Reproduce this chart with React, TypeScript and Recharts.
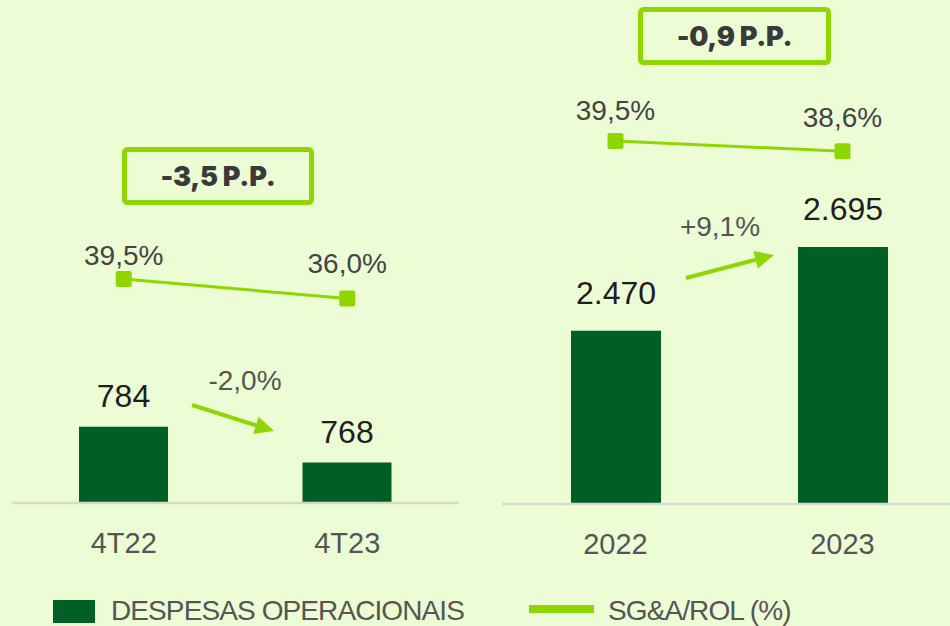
import { ComposedChart, Bar, Line, XAxis, YAxis, LabelList } from "recharts";

const quarterLabels = ["4T22", "4T23"];
const quarterExpenses = [784, 768];
const quarterSga = [39.5, 36.0];

const yearLabels = ["2022", "2023"];
const yearExpenses = [2470, 2695];
const yearSga = [39.5, 38.6];

const quarterDelta = "-2,0%";
const yearDelta = "+9,1%";
const quarterPp = "-3,5 P.P.";
const yearPp = "-0,9 P.P.";

const BG = "#ecfcd5";
const DARK = "#005e27";
const LIME = "#8fd600";
const FONT = "'Liberation Sans', Arial, sans-serif";

const fmtThousands = (v: number) => String(v).replace(/\B(?=(\d{3})+(?!\d))/g, ".");
const fmtPct = (v: number) => v.toFixed(1).replace(".", ",") + "%";

const buildRows = (labels: string[], exp: number[], sga: number[]) =>
  labels.map((label, i) => ({ label, expenses: exp[i], sga: sga[i] }));

interface PanelProps {
  rows: { label: string; expenses: number; sga: number }[];
  left: number;
  rightMargin: number;
  plotBottom: number;
  barDomain: [number, number];
  lineDomain: [number, number];
  barSize: number;
  barLabelGap: number;
  lineLabelGaps: number[];
}

function Panel({ rows, left, rightMargin, plotBottom, barDomain, lineDomain, barSize, barLabelGap, lineLabelGaps }: PanelProps) {
  const height = 570;
  const square = (props: any) => {
    const { cx, cy, index } = props;
    return <rect key={"d" + index} x={cx - 8} y={cy - 8} width={16} height={16} rx={2} fill={LIME} />;
  };
  return (
    <div style={{ position: "absolute", left, top: 0 }}>
      <ComposedChart
        width={470}
        height={height}
        data={rows}
        margin={{ top: 0, right: rightMargin, bottom: 0, left: 12 }}
      >
        <XAxis
          dataKey="label"
          height={height - plotBottom}
          axisLine={{ stroke: "#d6d8cf", strokeWidth: 2.5 }}
          tickLine={false}
          tickSize={0}
          tickMargin={0}
          interval={0}
          tick={(p: any) => (
            <text x={p.x} y={p.y + 50} textAnchor="middle" fontSize={29} fill="#555" fontFamily={FONT}>
              {p.payload.value}
            </text>
          )}
        />
        <YAxis yAxisId="bar" hide domain={barDomain} allowDataOverflow />
        <YAxis yAxisId="line" hide domain={lineDomain} allowDataOverflow />
        <Bar yAxisId="bar" dataKey="expenses" fill={DARK} barSize={barSize} isAnimationActive={false}>
          <LabelList
            dataKey="expenses"
            content={(p: any) => (
              <text
                x={p.x + p.width / 2}
                y={p.y - barLabelGap}
                textAnchor="middle"
                fontSize={32}
                fill="#1e1e1e"
                fontFamily={FONT}
              >
                {fmtThousands(p.value)}
              </text>
            )}
          />
        </Bar>
        <Line
          yAxisId="line"
          dataKey="sga"
          stroke={LIME}
          strokeWidth={3}
          dot={square}
          activeDot={false}
          isAnimationActive={false}
        >
          <LabelList
            dataKey="sga"
            content={(p: any) => (
              <text
                x={p.x}
                y={p.y - (lineLabelGaps[p.index] ?? 20)}
                textAnchor="middle"
                fontSize={28}
                fill="#444"
                fontFamily={FONT}
              >
                {fmtPct(p.value)}
              </text>
            )}
          />
        </Line>
      </ComposedChart>
    </div>
  );
}

function Arrow({ x1, y1, x2, y2 }: { x1: number; y1: number; x2: number; y2: number }) {
  const dx = x2 - x1;
  const dy = y2 - y1;
  const len = Math.hypot(dx, dy);
  const ux = dx / len;
  const uy = dy / len;
  const hl = 19;
  const hw = 9;
  const bx = x2 - ux * hl;
  const by = y2 - uy * hl;
  const pts = `${x2},${y2} ${bx - uy * hw},${by + ux * hw} ${bx + uy * hw},${by - ux * hw}`;
  return (
    <g>
      <line x1={x1} y1={y1} x2={bx + ux * 2} y2={by + uy * 2} stroke={LIME} strokeWidth={4} />
      <polygon points={pts} fill={LIME} />
    </g>
  );
}

function PpBox({ x, y, w, h, text }: { x: number; y: number; w: number; h: number; text: string }) {
  return (
    <g>
      <rect x={x} y={y} width={w} height={h} rx={3} fill="none" stroke={LIME} strokeWidth={5} />
      <text
        x={x + w / 2}
        y={y + h / 2 + 10}
        textAnchor="middle"
        fontSize={27}
        fontWeight={900}
        letterSpacing={-0.3}
        fill="#3a3a3a"
        fontFamily="Inter, 'DejaVu Sans', sans-serif"
      >
        {text}
      </text>
    </g>
  );
}

export default function App() {
  const quarterRows = buildRows(quarterLabels, quarterExpenses, quarterSga);
  const yearRows = buildRows(yearLabels, yearExpenses, yearSga);

  return (
    <div style={{ position: "relative", width: 950, height: 626, background: BG, overflow: "hidden" }}>
      <style>{"body{margin:0}"}</style>
      <Panel
        rows={quarterRows}
        left={0}
        rightMargin={11}
        plotBottom={503}
        barDomain={[750, 974]}
        lineDomain={[-0.7, 89.6]}
        barSize={89}
        barLabelGap={19.5}
        lineLabelGaps={[14, 25.5]}
      />
      <Panel
        rows={yearRows}
        left={490}
        rightMargin={4}
        plotBottom={504}
        barDomain={[2004, 3359]}
        lineDomain={[7.8, 51.8]}
        barSize={90}
        barLabelGap={27}
        lineLabelGaps={[21, 24]}
      />
      <svg
        width={950}
        height={626}
        style={{ position: "absolute", left: 0, top: 0, pointerEvents: "none" }}
      >
        <PpBox x={124.5} y={149.5} w={187} h={53} text={quarterPp} />
        <PpBox x={640.5} y={9.5} w={188} h={53} text={yearPp} />

        <Arrow x1={192} y1={405} x2={274} y2={431} />
        <text x={245} y={390} textAnchor="middle" fontSize={28} fill="#555" fontFamily={FONT}>
          {quarterDelta}
        </text>
        <Arrow x1={686} y1={278} x2={774} y2={255} />
        <text x={720} y={236} textAnchor="middle" fontSize={28} fill="#555" fontFamily={FONT}>
          {yearDelta}
        </text>

        <rect x={53} y={600} width={42} height={23} fill={DARK} />
        <text x={111} y={620} fontSize={28} letterSpacing={-0.9} fill="#555" fontFamily={FONT}>
          DESPESAS OPERACIONAIS
        </text>
        <rect x={529} y={605} width={65} height={8} fill={LIME} />
        <text x={608} y={620} fontSize={28} letterSpacing={-0.9} fill="#555" fontFamily={FONT}>
          SG&amp;A/ROL (%)
        </text>
      </svg>
    </div>
  );
}
